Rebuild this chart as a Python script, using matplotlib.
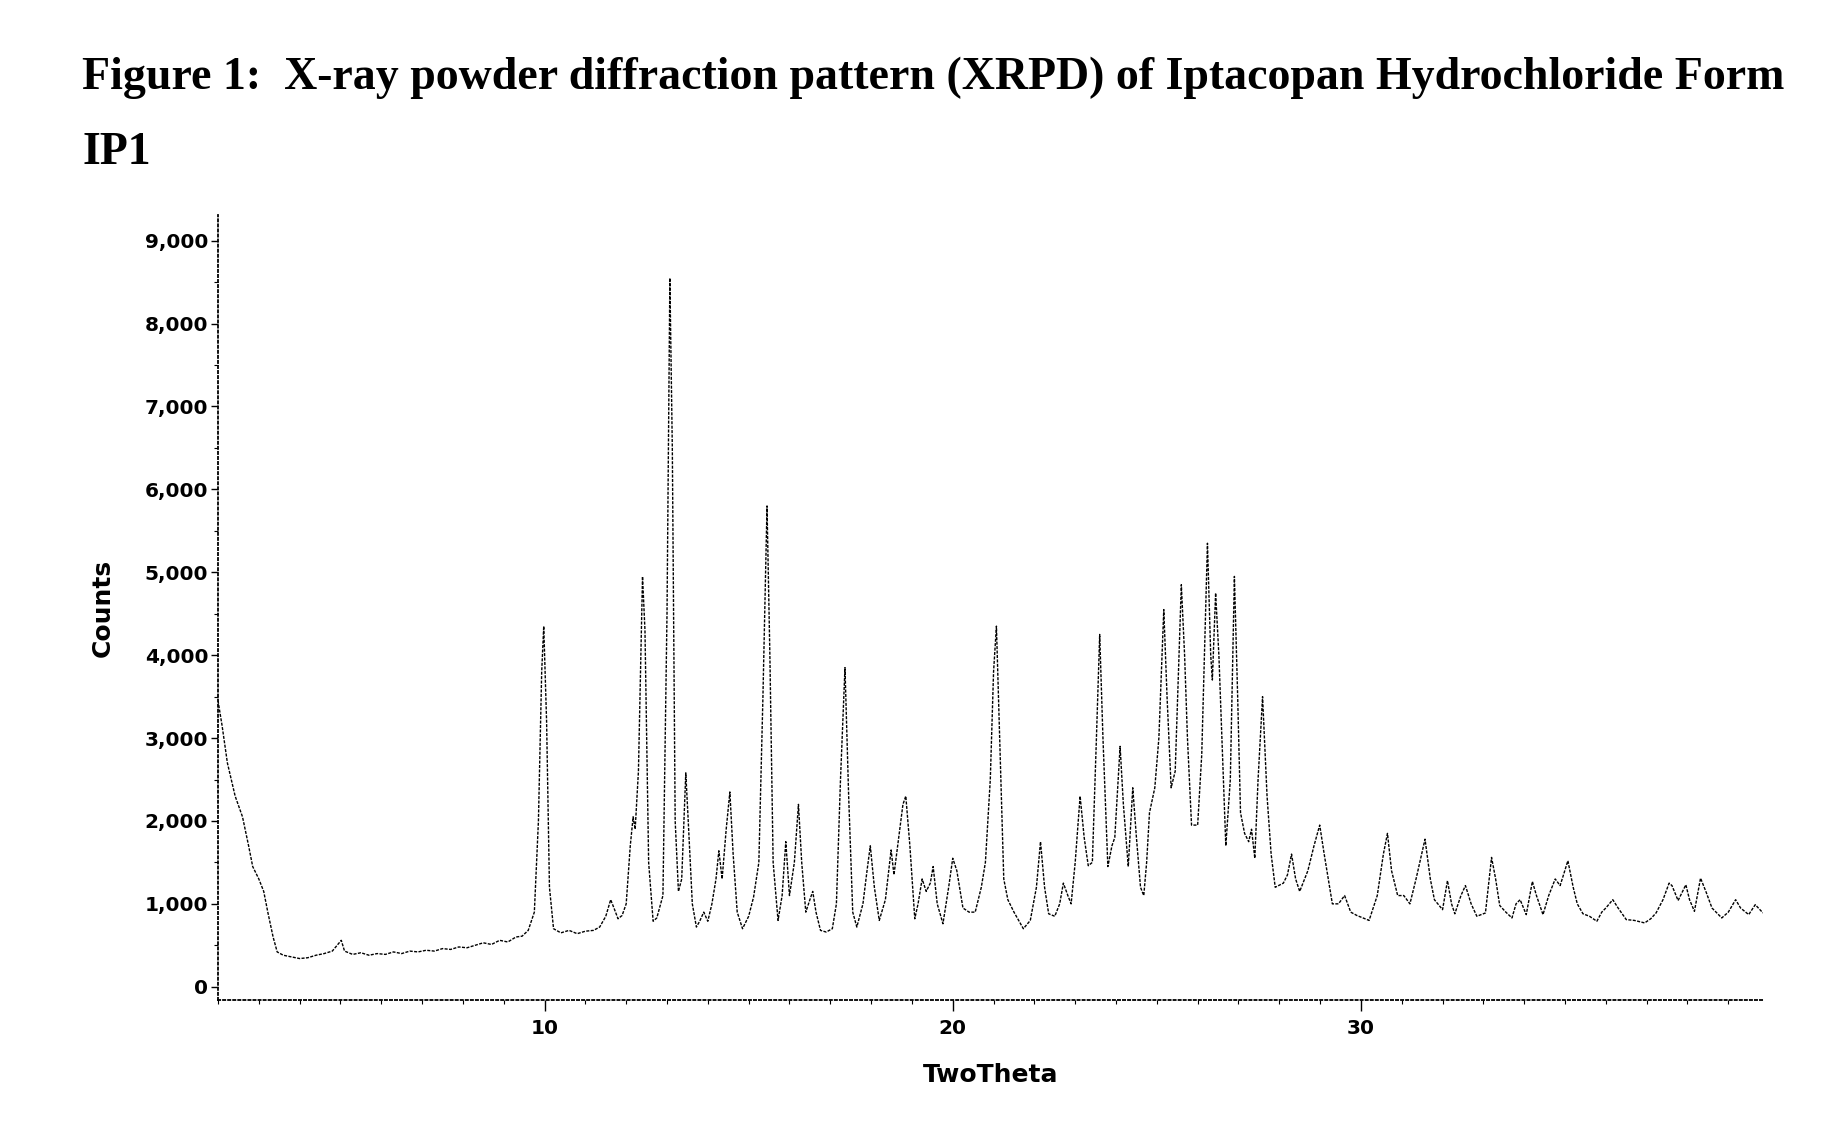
import matplotlib
matplotlib.use("Agg")
import matplotlib.pyplot as plt
from matplotlib.ticker import FuncFormatter, MultipleLocator, FixedLocator

# ---- data ----
two_theta = [
    2.00, 2.10, 2.23, 2.42, 2.60, 2.75, 2.85, 3.00, 3.12, 3.22, 3.35, 3.45, 3.60, 3.80, 4.00,
    4.20, 4.40, 4.60, 4.80, 4.95, 5.02, 5.10, 5.30, 5.50, 5.70, 5.90, 6.10, 6.30, 6.50, 6.70,
    6.90, 7.10, 7.30, 7.50, 7.70, 7.90, 8.10, 8.30, 8.50, 8.70, 8.90, 9.10, 9.30, 9.45, 9.60,
    9.75, 9.85, 9.93, 9.98, 10.05, 10.12, 10.22, 10.40, 10.60, 10.80, 11.00, 11.20, 11.35, 11.50, 11.62,
    11.70, 11.80, 11.90, 12.00, 12.10, 12.17, 12.22, 12.30, 12.40, 12.46, 12.55, 12.66, 12.75, 12.90, 13.00,
    13.07, 13.13, 13.20, 13.28, 13.36, 13.46, 13.52, 13.62, 13.72, 13.80, 13.90, 14.00, 14.10, 14.20, 14.27,
    14.35, 14.45, 14.54, 14.62, 14.72, 14.85, 15.00, 15.12, 15.25, 15.35, 15.45, 15.52, 15.60, 15.72, 15.82,
    15.91, 16.00, 16.12, 16.22, 16.30, 16.40, 16.50, 16.57, 16.65, 16.76, 16.90, 17.05, 17.15, 17.25, 17.36,
    17.45, 17.55, 17.65, 17.80, 17.90, 17.98, 18.08, 18.20, 18.35, 18.49, 18.56, 18.65, 18.78, 18.85, 18.95,
    19.07, 19.15, 19.25, 19.35, 19.45, 19.52, 19.62, 19.76, 19.90, 20.00, 20.10, 20.25, 20.40, 20.55, 20.70,
    20.80, 20.92, 21.00, 21.07, 21.15, 21.25, 21.35, 21.50, 21.73, 21.90, 22.05, 22.15, 22.25, 22.35, 22.50,
    22.62, 22.71, 22.82, 22.90, 23.00, 23.12, 23.22, 23.32, 23.42, 23.52, 23.60, 23.68, 23.80, 23.90, 23.97,
    24.10, 24.18, 24.30, 24.41, 24.50, 24.60, 24.68, 24.75, 24.82, 24.95, 25.05, 25.17, 25.25, 25.35, 25.45,
    25.60, 25.68, 25.75, 25.85, 26.00, 26.10, 26.24, 26.32, 26.36, 26.44, 26.52, 26.58, 26.69, 26.80, 26.90,
    26.98, 27.05, 27.15, 27.25, 27.32, 27.40, 27.48, 27.59, 27.70, 27.80, 27.90, 28.10, 28.20, 28.30, 28.40,
    28.50, 28.70, 28.85, 28.99, 29.10, 29.30, 29.45, 29.60, 29.75, 29.90, 30.20, 30.40, 30.55, 30.65, 30.75,
    30.90, 31.05, 31.20, 31.35, 31.57, 31.70, 31.80, 32.00, 32.12, 32.22, 32.30, 32.45, 32.56, 32.70, 32.84,
    33.05, 33.20, 33.30, 33.40, 33.55, 33.70, 33.80, 33.90, 34.05, 34.20, 34.30, 34.46, 34.60, 34.76, 34.88,
    35.07, 35.20, 35.30, 35.44, 35.60, 35.78, 35.90, 36.00, 36.17, 36.30, 36.50, 36.70, 36.95, 37.10, 37.23,
    37.40, 37.55, 37.62, 37.77, 37.96, 38.05, 38.17, 38.32, 38.45, 38.60, 38.84, 39.00, 39.18, 39.30, 39.50,
    39.66, 39.85,
]
counts = [
    3450, 3150, 2700, 2300, 2050, 1700, 1450, 1300, 1150, 900, 600, 420, 380, 360, 340,
    350, 380, 400, 430, 520, 560, 430, 390, 410, 380, 400, 390, 420, 400, 430,
    420, 440, 430, 460, 450, 480, 470, 500, 530, 510, 560, 540, 600, 610, 680,
    900, 2000, 3800, 4350, 3200, 1200, 700, 650, 680, 640, 670, 680, 720, 850, 1050,
    950, 820, 860, 1000, 1700, 2050, 1900, 2600, 4950, 4300, 1500, 790, 830, 1100, 4500,
    8550, 6500, 2000, 1150, 1300, 2580, 2000, 1000, 720, 790, 900, 790, 1000, 1300, 1640,
    1300, 1900, 2350, 1600, 900, 700, 850, 1080, 1500, 3500, 5800, 4000, 1500, 800, 1100,
    1750, 1100, 1500, 2200, 1500, 900, 1050, 1150, 900, 680, 660, 700, 1000, 2500, 3850,
    2300, 900, 720, 1000, 1400, 1700, 1200, 800, 1050, 1650, 1350, 1700, 2200, 2300, 1700,
    820, 1000, 1300, 1150, 1250, 1450, 1000, 760, 1200, 1550, 1400, 950, 900, 900, 1200,
    1500, 2500, 3800, 4350, 3000, 1300, 1050, 900, 700, 800, 1200, 1750, 1200, 880, 850,
    1000, 1250, 1100, 1000, 1500, 2300, 1800, 1460, 1500, 3000, 4250, 3000, 1450, 1700, 1800,
    2900, 2200, 1450, 2400, 1800, 1200, 1100, 1500, 2100, 2400, 3000, 4550, 3500, 2400, 2600,
    4850, 4000, 3000, 1950, 1950, 2800, 5350, 4000, 3700, 4750, 4000, 3200, 1700, 2500, 4950,
    3500, 2100, 1850, 1750, 1900, 1550, 2500, 3500, 2300, 1600, 1200, 1250, 1350, 1600, 1300,
    1150, 1400, 1700, 1950, 1600, 1000, 1000, 1100, 900, 860, 800, 1100, 1600, 1850, 1400,
    1100, 1100, 1000, 1300, 1780, 1300, 1050, 930, 1280, 1000, 880, 1100, 1220, 1000, 850,
    890, 1560, 1300, 980, 900, 830, 1000, 1050, 870, 1270, 1100, 870, 1100, 1300, 1220,
    1520, 1200, 1000, 880, 850, 790, 900, 950, 1050, 950, 810, 800, 770, 820, 890,
    1050, 1250, 1220, 1040, 1230, 1050, 910, 1310, 1150, 950, 830, 900, 1050, 950, 870,
    990, 890,
]
y_ticks = [0, 1000, 2000, 3000, 4000, 5000, 6000, 7000, 8000, 9000]
x_ticks = [10, 20, 30]
title_line1 = "Figure 1:  X-ray powder diffraction pattern (XRPD) of Iptacopan Hydrochloride Form"
title_line2 = "IP1"
x_label = "TwoTheta"
y_label = "Counts"

# ---- figure ----
fig = plt.figure(figsize=(18.46, 11.21), dpi=100)
fig.patch.set_facecolor("white")

W, H = 1846, 1121
ax_left, ax_right, ax_top, ax_bottom = 218, 1763, 215, 1000
ax = fig.add_axes([ax_left / W, 1 - ax_bottom / H, (ax_right - ax_left) / W, (ax_bottom - ax_top) / H])

ax.plot(two_theta, counts, color="black", lw=1.0, linestyle=(0, (2.2, 1.0)))

ax.set_xlim(2.0, 39.85)
ax.set_ylim(-160, 9310)

for s in ["top", "right"]:
    ax.spines[s].set_visible(False)
for s in ["left", "bottom"]:
    ax.spines[s].set_linestyle((0, (1.2, 1.6)))
    ax.spines[s].set_linewidth(1.3)
    ax.spines[s].set_color("black")

ax.yaxis.set_major_locator(FixedLocator(y_ticks))
ax.yaxis.set_minor_locator(MultipleLocator(500))
ax.xaxis.set_major_locator(FixedLocator(x_ticks))
ax.xaxis.set_minor_locator(MultipleLocator(1))
ax.yaxis.set_major_formatter(FuncFormatter(lambda v, p: f"{int(round(v)):,}"))

ax.tick_params(axis="y", which="major", direction="out", length=5, width=1, pad=2, labelsize=14.5)
ax.tick_params(axis="y", which="minor", direction="out", length=3, width=0.8)
ax.tick_params(axis="x", which="major", direction="out", length=8, width=1, pad=6, labelsize=14.5)
ax.tick_params(axis="x", which="minor", direction="out", length=3, width=0.8)
for lab in ax.get_xticklabels() + ax.get_yticklabels():
    lab.set_fontweight("bold")
    lab.set_family("DejaVu Sans")

ax.set_xlabel(x_label, fontsize=18, fontweight="bold", family="DejaVu Sans", va="baseline")
ax.xaxis.set_label_coords(0.5, (ax_bottom - 1082) / (ax_bottom - ax_top))
ax.set_ylabel(y_label, fontsize=18, fontweight="bold", family="DejaVu Sans", va="center")
ax.yaxis.set_label_coords((103 - ax_left) / (ax_right - ax_left), 0.5)

fig.text(82 / W, 1 - 89 / H, title_line1, fontsize=33, fontweight="bold",
         family="Liberation Serif", ha="left", va="baseline")
fig.text(82 / W, 1 - 164 / H, title_line2, fontsize=33, fontweight="bold",
         family="Liberation Serif", ha="left", va="baseline")

fig.savefig("out.png", dpi=100, facecolor="white")
